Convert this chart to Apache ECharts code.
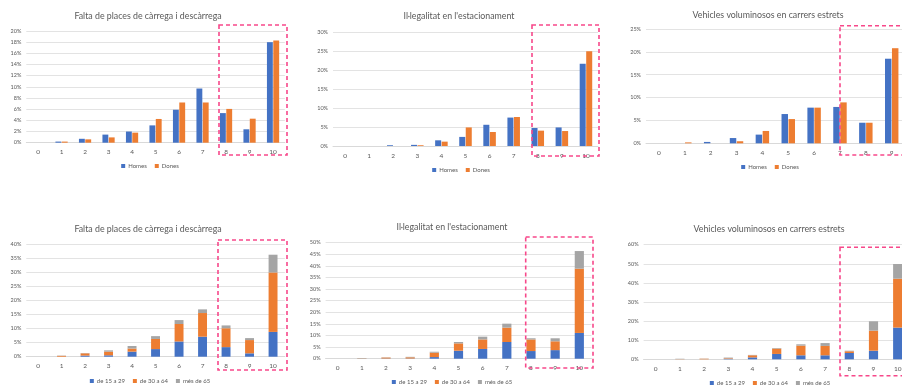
<!DOCTYPE html>
<html>
<head>
<meta charset="utf-8">
<script src="https://cdn.jsdelivr.net/npm/echarts@6/dist/echarts.min.js"></script>
<style>
  html, body { margin: 0; padding: 0; background: #fff; overflow: hidden; }
  #chart { width: 940px; height: 388px; }
</style>
</head>
<body>
<div id="chart"></div>
<script>
// Valoració 0-10 de cada problema, en % de respostes
const categories = ['0', '1', '2', '3', '4', '5', '6', '7', '8', '9', '10'];

const titles = [
  'Falta de places de càrrega i descàrrega',
  'Il·legalitat en l\'estacionament',
  'Vehicles voluminosos en carrers estrets'
];

const sexNames = ['Homes', 'Dones'];
const ageNames = ['de 15 a 29', 'de 30 a 64', 'més de 65'];

// Per sexe
const homesCarrega   = [0, 0.2, 0.7, 1.45, 2.0, 3.1, 5.9, 9.7, 5.3, 2.4, 18.0];
const donesCarrega   = [0, 0.2, 0.6, 0.95, 1.8, 4.25, 7.2, 7.2, 6.05, 4.3, 18.3];
const homesIllegal   = [0, 0, 0.2, 0.3, 1.5, 2.4, 5.6, 7.5, 4.75, 4.9, 21.7];
const donesIllegal   = [0, 0, 0, 0.2, 1.15, 4.9, 3.7, 7.65, 4.05, 3.95, 25.0];
const homesVoluminos = [0, 0, 0.3, 1.15, 1.9, 6.4, 7.8, 7.95, 4.5, 18.5, null];
const donesVoluminos = [0, 0.2, 0, 0.45, 2.7, 5.3, 7.8, 8.95, 4.5, 20.8, null];

// Per edat
const jovesCarrega   = [0, 0, 0.4, 0.5, 1.8, 2.7, 5.4, 7.1, 3.4, 1.2, 8.8];
const adultsCarrega  = [0, 0.3, 0.8, 1.3, 1.1, 3.6, 6.2, 8.4, 6.7, 4.7, 21.1];
const gransCarrega   = [0, 0.1, 0.1, 0.45, 0.9, 1.0, 1.4, 1.3, 1.0, 0.7, 6.3];
const jovesIllegal   = [0, 0, 0.1, 0.1, 0.7, 3.45, 4.2, 7.2, 3.3, 3.7, 11.1];
const adultsIllegal  = [0, 0.1, 0.4, 0.5, 1.9, 3.15, 4.1, 6.2, 5.0, 3.8, 27.7];
const gransIllegal   = [0, 0.2, 0.1, 0.2, 0.4, 0.6, 1.2, 1.7, 0.5, 1.3, 7.6];
const jovesVoluminos = [0, 0, 0, 0.3, 1.0, 2.8, 2.1, 2.1, 3.3, 4.5, 16.6];
const adultsVoluminos= [0, 0.1, 0.3, 0.3, 1.1, 2.8, 5.05, 4.9, 0.9, 10.5, 25.6];
const gransVoluminos = [0, 0.2, 0.1, 0.3, 0.2, 0.3, 0.7, 1.5, 0.3, 4.9, 7.7];

// Escales dels eixos Y (%)
const yMax      = [20, 30, 25, 40, 50, 60];
const yInterval = [2, 5, 5, 5, 5, 10];

const sexColors = ['#4472C4', '#ED7D31'];
const ageColors = ['#4472C4', '#ED7D31', '#A5A5A5'];
const textColor = '#595959';
const font = 'Lato, "Open Sans", sans-serif';

// Disposició de cada panell: graella, títol i llegenda (px)
const panels = [
  { left: 26.3, width: 258.5, top: 31,    bottom: 142.7, tx: 148, ty: 16,  lx: 150, ly: 166 },
  { left: 333,  width: 265,   top: 32.3,  bottom: 146,   tx: 459, ty: 16,  lx: 461, ly: 170 },
  { left: 646,  width: 284.5, top: 29,    bottom: 143.3, tx: 768, ty: 15,  lx: 770, ly: 167 },
  { left: 26.3, width: 258.5, top: 244,   bottom: 356.7, tx: 148, ty: 229, lx: 150, ly: 381 },
  { left: 325.6,width: 265.8, top: 242.7, bottom: 358.7, tx: 452, ty: 227, lx: 452, ly: 382 },
  { left: 643.6,width: 266.2, top: 244.7, bottom: 359.3, tx: 769, ty: 229, lx: 770, ly: 383 }
];

// Requadres discontinus que destaquen les valoracions altes
const boxes = [
  [219, 25, 68, 130],
  [532, 25, 67, 131],
  [840, 25.7, 80, 129.3],
  [218, 240, 69, 130],
  [525.7, 237, 67.3, 131],
  [840, 247.3, 80, 128.5]
];

const sexData = [
  [homesCarrega, donesCarrega],
  [homesIllegal, donesIllegal],
  [homesVoluminos, donesVoluminos]
];
const ageData = [
  [jovesCarrega, adultsCarrega, gransCarrega],
  [jovesIllegal, adultsIllegal, gransIllegal],
  [jovesVoluminos, adultsVoluminos, gransVoluminos]
];

const grid = [], xAxis = [], yAxis = [], title = [], legend = [], series = [];

panels.forEach((p, i) => {
  grid.push({ left: p.left, width: p.width, top: p.top, height: p.bottom - p.top, containLabel: false });
  xAxis.push({
    type: 'category', gridIndex: i, data: categories,
    axisLine: { lineStyle: { color: '#D9D9D9' } },
    axisTick: { show: false },
    axisLabel: { color: textColor, fontSize: 6.5, fontFamily: font, margin: 6, interval: 0 }
  });
  yAxis.push({
    type: 'value', gridIndex: i, min: 0, max: yMax[i], interval: yInterval[i],
    axisLine: { show: false }, axisTick: { show: false },
    axisLabel: { color: textColor, fontSize: 5.5, fontFamily: font, margin: 5, formatter: '{value}%' },
    splitLine: { lineStyle: { color: '#E3E3E3', width: 1 } }
  });
  title.push({
    text: titles[i % 3], left: p.tx, top: p.ty, textAlign: 'center', textVerticalAlign: 'middle',
    padding: 0,
    textStyle: { color: textColor, fontSize: 8.8, fontWeight: 'normal', fontFamily: font }
  });
});

// Fila superior: barres agrupades per sexe
sexData.forEach((pair, k) => {
  pair.forEach((vals, j) => {
    series.push({
      type: 'bar', name: sexNames[j], xAxisIndex: k, yAxisIndex: k,
      data: vals, barWidth: '25%', barGap: '8%',
      itemStyle: { color: sexColors[j] }
    });
  });
  legend.push({
    data: sexNames, left: panels[k].lx, top: panels[k].ly - 3, padding: 0,
    itemWidth: 4, itemHeight: 4, itemGap: 8, icon: 'rect',
    textStyle: { color: textColor, fontSize: 6, fontFamily: font, padding: [0, 0, 0, -2] }
  });
});

// Fila inferior: barres apilades per edat
ageData.forEach((triple, k) => {
  const idx = k + 3;
  triple.forEach((vals, j) => {
    series.push({
      type: 'bar', name: ageNames[j], xAxisIndex: idx, yAxisIndex: idx,
      stack: 'edat' + k, data: vals, barWidth: '38%',
      itemStyle: { color: ageColors[j] }
    });
  });
  legend.push({
    data: ageNames, left: panels[idx].lx, top: panels[idx].ly - 3, padding: 0,
    itemWidth: 4, itemHeight: 4, itemGap: 8, icon: 'rect',
    textStyle: { color: textColor, fontSize: 6, fontFamily: font, padding: [0, 0, 0, -2] }
  });
});

const chart = echarts.init(document.getElementById('chart'), null, { renderer: 'canvas' });

chart.setOption({
  animation: false,
  backgroundColor: '#fff',
  title, grid, xAxis, yAxis, legend, series,
  graphic: boxes.map(b => ({
    type: 'rect', z: 100, silent: true,
    shape: { x: b[0], y: b[1], width: b[2], height: b[3] },
    style: { fill: 'none', stroke: '#F7488A', lineWidth: 1.6, lineDash: [4, 3] }
  }))
});

// Centra cada llegenda sobre la seva posició
const model = chart.getModel();
const newLegend = legend.map((l, i) => {
  const comp = model.getComponent('legend', i);
  const view = chart.getViewOfComponentModel(comp);
  const rect = view.group.getBoundingRect();
  return { left: l.left - rect.width / 2 };
});
chart.setOption({ legend: newLegend });
</script>
</body>
</html>
